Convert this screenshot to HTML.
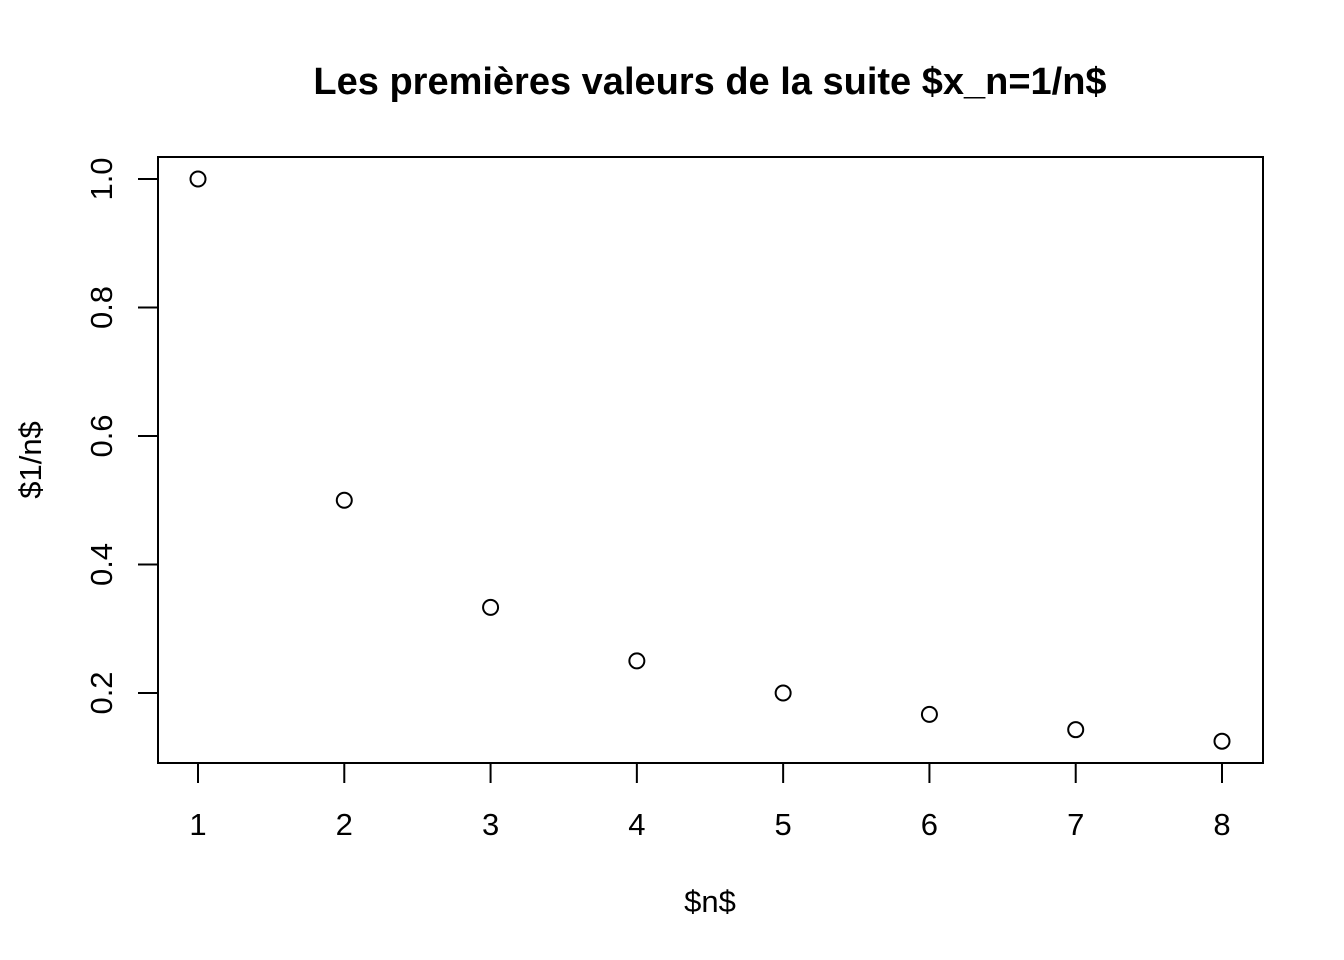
<!DOCTYPE html>
<html><head><meta charset="utf-8"><style>
body{margin:0;background:#fff;}
svg{display:block;font-family:"Liberation Sans",Arial,sans-serif;}
</style></head><body>
<svg id="chart" width="1344" height="960" viewBox="0 0 1344 960" xmlns="http://www.w3.org/2000/svg">
<text x="710" y="94" text-anchor="middle" font-size="38" font-weight="bold">Les premières valeurs de la suite $x_n=1/n$</text>
<rect x="158" y="157" width="1105" height="606" fill="none" stroke="#000" stroke-width="2"/>
<text x="710" y="912" text-anchor="middle" font-size="31">$n$</text>
<text transform="translate(41,460) rotate(-90)" text-anchor="middle" font-size="31">$1/n$</text>
<g id="axes"></g>
<g id="points"></g>
</svg>
<script>
const categories=[1,2,3,4,5,6,7,8];
const values=[1,0.5,0.3333,0.25,0.2,0.1667,0.1429,0.125];
const xTicks=[1,2,3,4,5,6,7,8];
const yTicks=[0.2,0.4,0.6,0.8,1.0];
const yTickLabels=["0.2","0.4","0.6","0.8","1.0"];
const NS="http://www.w3.org/2000/svg";
function xs(v){return 198+(v-1)*(1222-198)/7;}
function ys(v){return 693-(v-0.2)*(693-179)/0.8;}
const axes=document.getElementById('axes');
function mk(tag,attrs,parent){const e=document.createElementNS(NS,tag);for(const k in attrs)e.setAttribute(k,attrs[k]);parent.appendChild(e);return e;}
mk('line',{x1:xs(xTicks[0]),x2:xs(xTicks[xTicks.length-1]),y1:763,y2:763,stroke:'#000','stroke-width':2},axes);
xTicks.forEach(t=>{
  const l=mk('line',{x1:xs(t),x2:xs(t),y1:763,y2:783,stroke:'#000','stroke-width':2},axes);
  
  
  const tx=mk('text',{x:xs(t),y:835,'text-anchor':'middle','font-size':31},axes);
  tx.textContent=t;
  
  
});
mk('line',{x1:158,x2:158,y1:ys(yTicks[0]),y2:ys(yTicks[yTicks.length-1]),stroke:'#000','stroke-width':2},axes);
yTicks.forEach((t,i)=>{
  const y=ys(t);
  const l=mk('line',{x1:138,x2:158,y1:y,y2:y,stroke:'#000','stroke-width':2},axes);
  
  
  const tx=mk('text',{transform:`translate(112,${y}) rotate(-90)`,'text-anchor':'middle','font-size':31},axes);
  tx.textContent=yTickLabels[i];
  
  
});
const pts=document.getElementById('points');
categories.forEach((c,i)=>{
  const p=mk('circle',{cx:xs(c),cy:ys(values[i]),r:7.5,fill:'none',stroke:'#000','stroke-width':2},pts);
  
  
});
</script>
</body></html>
